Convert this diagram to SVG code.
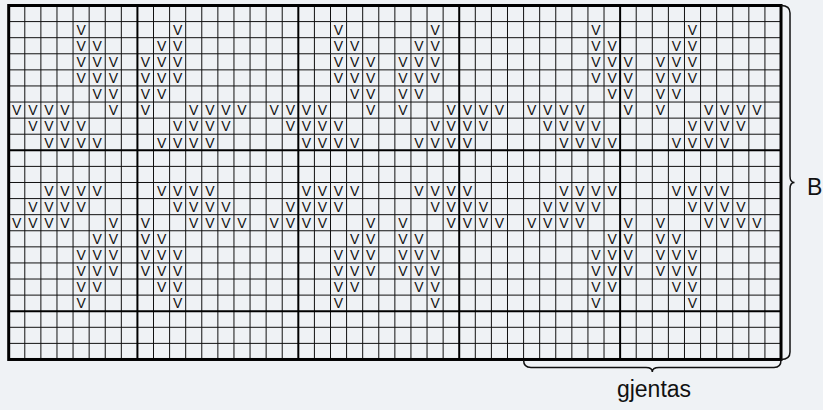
<svg xmlns="http://www.w3.org/2000/svg" width="823" height="410" viewBox="0 0 823 410">
<style>
.thin{fill:none;stroke:#111;stroke-width:1}
.thick{fill:none;stroke:#000;stroke-width:2}
.border{fill:none;stroke:#000;stroke-width:3}
.brace{fill:none;stroke:#111;stroke-width:1.5}
.v{font-family:"Liberation Sans",Arial,sans-serif;font-size:14px;fill:#111;text-anchor:middle}
.lbl{font-family:"Liberation Sans",Arial,sans-serif;font-size:23px;fill:#111}
</style>
<rect width="823" height="410" fill="#eff2f5"/>
<g id="grid">
<path class="thin" d="M24.79 5.5V359.48M40.88 5.5V359.48M56.97 5.5V359.48M73.06 5.5V359.48M89.15 5.5V359.48M105.24 5.5V359.48M121.33 5.5V359.48M153.51 5.5V359.48M169.6 5.5V359.48M185.69 5.5V359.48M201.78 5.5V359.48M217.87 5.5V359.48M233.96 5.5V359.48M250.05 5.5V359.48M266.14 5.5V359.48M282.23 5.5V359.48M314.41 5.5V359.48M330.5 5.5V359.48M346.59 5.5V359.48M362.68 5.5V359.48M378.77 5.5V359.48M394.86 5.5V359.48M410.95 5.5V359.48M427.04 5.5V359.48M443.13 5.5V359.48M475.31 5.5V359.48M491.4 5.5V359.48M507.49 5.5V359.48M523.58 5.5V359.48M539.67 5.5V359.48M555.76 5.5V359.48M571.85 5.5V359.48M587.94 5.5V359.48M604.03 5.5V359.48M636.21 5.5V359.48M652.3 5.5V359.48M668.39 5.5V359.48M684.48 5.5V359.48M700.57 5.5V359.48M716.66 5.5V359.48M732.75 5.5V359.48M748.84 5.5V359.48M764.93 5.5V359.48
M8.7 21.59H781.02M8.7 37.68H781.02M8.7 53.77H781.02M8.7 69.86H781.02M8.7 85.95H781.02M8.7 102.04H781.02M8.7 118.13H781.02M8.7 134.22H781.02M8.7 166.4H781.02M8.7 182.49H781.02M8.7 198.58H781.02M8.7 214.67H781.02M8.7 230.76H781.02M8.7 246.85H781.02M8.7 262.94H781.02M8.7 279.03H781.02M8.7 295.12H781.02M8.7 327.3H781.02M8.7 343.39H781.02"/>
<path class="thick" d="M137.42 5.5V359.48M298.32 5.5V359.48M459.22 5.5V359.48M620.12 5.5V359.48M8.7 150.31H781.02M8.7 311.21H781.02"/>
<rect class="border" x="8.7" y="5.5" width="772.32" height="353.98"/>
</g>
<g id="stitches">
<text class="v" x="81.1 177.6 338.5 435.1 596.0 692.5" y="34.9">VVVVVV</text>
<text class="v" x="81.1 97.2 161.6 177.6 338.5 354.6 419.0 435.1 596.0 612.1 676.4 692.5" y="51.0">VVVVVVVVVVVV</text>
<text class="v" x="81.1 97.2 113.3 145.5 161.6 177.6 338.5 354.6 370.7 402.9 419.0 435.1 596.0 612.1 628.2 660.3 676.4 692.5" y="67.1">VVVVVVVVVVVVVVVVVV</text>
<text class="v" x="81.1 97.2 113.3 145.5 161.6 177.6 338.5 354.6 370.7 402.9 419.0 435.1 596.0 612.1 628.2 660.3 676.4 692.5" y="83.2">VVVVVVVVVVVVVVVVVV</text>
<text class="v" x="97.2 113.3 145.5 161.6 354.6 370.7 402.9 419.0 612.1 628.2 660.3 676.4" y="99.3">VVVVVVVVVVVV</text>
<text class="v" x="16.7 32.8 48.9 65.0 113.3 145.5 193.7 209.8 225.9 242.0 274.2 290.3 306.4 322.5 370.7 402.9 451.2 467.3 483.4 499.4 531.6 547.7 563.8 579.9 628.2 660.3 708.6 724.7 740.8 756.9" y="115.3">VVVVVVVVVVVVVVVVVVVVVVVVVVVVVV</text>
<text class="v" x="32.8 48.9 65.0 81.1 177.6 193.7 209.8 225.9 290.3 306.4 322.5 338.5 435.1 451.2 467.3 483.4 547.7 563.8 579.9 596.0 692.5 708.6 724.7 740.8" y="131.4">VVVVVVVVVVVVVVVVVVVVVVVV</text>
<text class="v" x="48.9 65.0 81.1 97.2 161.6 177.6 193.7 209.8 306.4 322.5 338.5 354.6 419.0 435.1 451.2 467.3 563.8 579.9 596.0 612.1 676.4 692.5 708.6 724.7" y="147.5">VVVVVVVVVVVVVVVVVVVVVVVV</text>
<text class="v" x="48.9 65.0 81.1 97.2 161.6 177.6 193.7 209.8 306.4 322.5 338.5 354.6 419.0 435.1 451.2 467.3 563.8 579.9 596.0 612.1 676.4 692.5 708.6 724.7" y="195.8">VVVVVVVVVVVVVVVVVVVVVVVV</text>
<text class="v" x="32.8 48.9 65.0 81.1 177.6 193.7 209.8 225.9 290.3 306.4 322.5 338.5 435.1 451.2 467.3 483.4 547.7 563.8 579.9 596.0 692.5 708.6 724.7 740.8" y="211.9">VVVVVVVVVVVVVVVVVVVVVVVV</text>
<text class="v" x="16.7 32.8 48.9 65.0 113.3 145.5 193.7 209.8 225.9 242.0 274.2 290.3 306.4 322.5 370.7 402.9 451.2 467.3 483.4 499.4 531.6 547.7 563.8 579.9 628.2 660.3 708.6 724.7 740.8 756.9" y="228.0">VVVVVVVVVVVVVVVVVVVVVVVVVVVVVV</text>
<text class="v" x="97.2 113.3 145.5 161.6 354.6 370.7 402.9 419.0 612.1 628.2 660.3 676.4" y="244.1">VVVVVVVVVVVV</text>
<text class="v" x="81.1 97.2 113.3 145.5 161.6 177.6 338.5 354.6 370.7 402.9 419.0 435.1 596.0 612.1 628.2 660.3 676.4 692.5" y="260.2">VVVVVVVVVVVVVVVVVV</text>
<text class="v" x="81.1 97.2 113.3 145.5 161.6 177.6 338.5 354.6 370.7 402.9 419.0 435.1 596.0 612.1 628.2 660.3 676.4 692.5" y="276.2">VVVVVVVVVVVVVVVVVV</text>
<text class="v" x="81.1 97.2 161.6 177.6 338.5 354.6 419.0 435.1 596.0 612.1 676.4 692.5" y="292.3">VVVVVVVVVVVV</text>
<text class="v" x="81.1 177.6 338.5 435.1 596.0 692.5" y="308.4">VVVVVV</text>
</g>
<g id="brace-right">
<path class="brace" d="M781 5.5Q790 5.5 790 13V176Q790 182.5 794.5 182.5Q790 182.5 790 189V352Q790 359.5 781 359.5"/>
<text class="lbl" x="807" y="195">B</text>
</g>
<g id="brace-bottom">
<path class="brace" d="M523.6 360Q523.6 367.5 531 367.5H646Q652.3 367.5 652.3 372Q652.3 367.5 659 367.5H774Q781 367.5 781 360"/>
<text class="lbl" x="654" y="397" text-anchor="middle">gjentas</text>
</g>
</svg>
